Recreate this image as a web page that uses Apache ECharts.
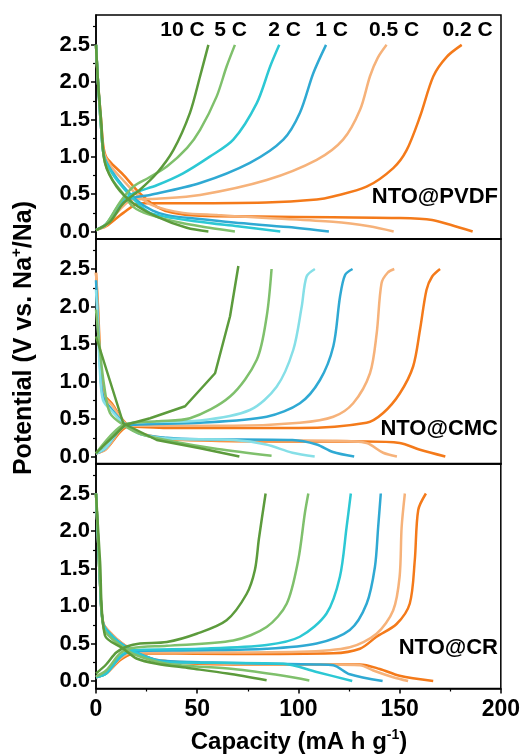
<!DOCTYPE html>
<html><head><meta charset="utf-8">
<script src="https://cdn.jsdelivr.net/npm/echarts@6/dist/echarts.min.js"></script>
<style>html,body{margin:0;padding:0;background:#fff}#c{width:523px;height:756px}</style>
</head><body><div id="c"></div>
<script>
// ---------- DATA ----------
const rates = ['0.2 C', '0.5 C', '1 C', '2 C', '5 C', '10 C'];
const rateLabelOrder = ['10 C', '5 C', '2 C', '1 C', '0.5 C', '0.2 C'];
const panelNames = ['NTO@PVDF', 'NTO@CMC', 'NTO@CR'];
const xTicks = [0, 50, 100, 150, 200];
const yMajor = [0, 0.5, 1, 1.5, 2, 2.5];
const yMinor = [0.25, 0.75, 1.25, 1.75, 2.25, 2.75];

// NTO@PVDF  discharge (D) / charge (C)  [capacity, potential]
const PVDF_D_02 = [[0,2.5],[1,2.0],[2.5,1.5],[3.6,1.15],[5,1.0],[8.5,0.89],[13.5,0.76],[21.7,0.51],[30,0.33],[38,0.25],[51,0.21],[80,0.2],[117,0.19],[150,0.18],[166,0.155],[175,0.09],[186,0.0]];
const PVDF_D_05 = [[0,2.5],[1,2.0],[2.5,1.4],[4,1.05],[8,0.85],[13,0.7],[20,0.5],[28,0.35],[43,0.25],[60,0.22],[84,0.18],[117,0.13],[135,0.07],[147,0.0]];
const PVDF_D_1  = [[0,2.5],[1,2.0],[2.5,1.4],[4,1.0],[8,0.8],[13,0.62],[20,0.42],[28,0.28],[35,0.22],[50,0.17],[68,0.12],[95,0.06],[115,0.0]];
const PVDF_D_2  = [[0,2.5],[1,2.0],[2.5,1.4],[4,1.0],[8,0.78],[13,0.6],[18,0.45],[26.7,0.25],[51,0.13],[70,0.07],[91,0.0]];
const PVDF_D_5  = [[0,2.5],[1,2.0],[2.5,1.4],[4.2,0.95],[8,0.7],[13,0.52],[18.4,0.33],[26,0.23],[43,0.11],[56,0.05],[68.6,0.0]];
const PVDF_D_10 = [[0,2.5],[1,2.0],[2.5,1.5],[4.4,0.92],[10.2,0.6],[18.4,0.38],[30,0.2],[44.8,0.05],[55.5,0.0]];
const PVDF_C_02 = [[0,0.02],[5,0.07],[13.5,0.25],[21.7,0.38],[35,0.38],[84,0.39],[109,0.43],[117,0.47],[133.6,0.6],[146.8,0.85],[153.4,1.09],[160,1.54],[166.6,2.08],[173.2,2.34],[180.6,2.5]];
const PVDF_C_05 = [[0,0.02],[5,0.08],[12,0.3],[18,0.43],[30,0.44],[51.4,0.49],[84.3,0.69],[109,0.96],[122,1.23],[130.4,1.63],[135.3,2.08],[139,2.32],[143.5,2.5]];
const PVDF_C_1  = [[0,0.02],[5,0.1],[12,0.35],[18,0.45],[26.7,0.49],[51.4,0.65],[76,0.92],[92.5,1.23],[100.7,1.59],[107.3,2.12],[113.6,2.5]];
const PVDF_C_2  = [[0,0.02],[5,0.1],[12,0.38],[18.4,0.51],[30,0.62],[43,0.78],[56,1.0],[67.8,1.23],[79.4,1.72],[86,2.21],[90.5,2.5]];
const PVDF_C_5  = [[0,0.02],[5,0.1],[12,0.4],[18.4,0.6],[26,0.72],[35,0.87],[45,1.12],[51.4,1.36],[59.6,1.81],[64.5,2.21],[68.6,2.5]];
const PVDF_C_10 = [[0,0.02],[6.9,0.13],[13.5,0.38],[21.7,0.56],[30,0.78],[38.2,1.09],[46.4,1.59],[51.4,2.08],[55.5,2.5]];

// NTO@CMC
const CMC_D_02 = [[0,2.45],[1,2.0],[2,1.4],[3.6,0.85],[8,0.7],[13.5,0.48],[20,0.33],[35,0.23],[100,0.2],[133,0.2],[150,0.18],[160,0.09],[172.5,0.0]];
const CMC_D_05 = [[0,2.45],[1,1.9],[2,1.3],[3.6,0.82],[8,0.68],[13.5,0.47],[20,0.33],[35,0.24],[51,0.22],[117,0.21],[133.6,0.18],[141.8,0.05],[148.6,0.0]];
const CMC_D_1  = [[0,2.35],[1,1.8],[2,1.2],[3.5,0.8],[8,0.62],[14,0.44],[22,0.3],[35,0.25],[51,0.23],[97,0.22],[109,0.16],[117,0.06],[127.5,0.0]];
const CMC_D_2  = [[0,2.22],[1,1.7],[2,1.1],[3.5,0.75],[8,0.6],[14,0.43],[22,0.3],[35,0.24],[68,0.22],[84,0.16],[97,0.05],[108,0.0]];
const CMC_D_5  = [[0,1.96],[2,1.4],[4,0.95],[6.9,0.58],[13.5,0.42],[22,0.3],[38,0.2],[60,0.1],[86.7,0.01]];
const CMC_D_10 = [[0,1.6],[13.5,0.44],[30,0.22],[51.4,0.11],[70.8,0.0]];
const CMC_C_02 = [[0,0.04],[5,0.1],[12,0.33],[16,0.4],[35,0.38],[100,0.38],[133.6,0.45],[141.8,0.58],[150,0.84],[156.6,1.2],[160,1.69],[163.2,2.22],[166,2.4],[169.9,2.5]];
const CMC_C_05 = [[0,0.04],[5,0.1],[12,0.35],[16,0.41],[68,0.41],[100.7,0.45],[117.2,0.53],[127,0.71],[135.3,1.11],[138.6,1.64],[141,2.31],[144,2.45],[147.3,2.5]];
const CMC_C_1  = [[0,0.04],[5,0.12],[12,0.37],[16,0.42],[51.4,0.45],[84.3,0.53],[100.7,0.71],[110.6,1.02],[117.2,1.47],[120.5,2.13],[123,2.42],[126.7,2.5]];
const CMC_C_2  = [[0,0.04],[5,0.12],[12,0.38],[18.4,0.45],[51.4,0.48],[76,0.62],[89.2,0.93],[97.4,1.42],[101.6,2.0],[104,2.4],[108.1,2.5]];
const CMC_C_5  = [[0,0.04],[13.5,0.42],[30,0.47],[46.4,0.51],[66.2,0.8],[79.4,1.29],[84.3,1.87],[86.7,2.5]];
const CMC_C_10 = [[0,0.045],[14.3,0.42],[26.7,0.51],[44,0.67],[58.8,1.11],[66.2,1.87],[70.3,2.54]];

// NTO@CR
const CR_D_02 = [[0,2.5],[1,1.9],[2,1.3],[3.6,0.77],[8,0.62],[13,0.5],[18.4,0.41],[30,0.28],[67.8,0.22],[130.4,0.22],[140.2,0.16],[150,0.07],[166.6,0.0]];
const CR_D_05 = [[0,2.5],[1,1.9],[2,1.3],[3.6,0.77],[8,0.62],[13,0.5],[18.4,0.41],[30,0.28],[67.8,0.23],[130.4,0.21],[137,0.14],[146.8,0.05],[154.2,0.0]];
const CR_D_1  = [[0,2.5],[1,1.9],[2,1.3],[3.6,0.76],[8,0.6],[13,0.49],[18.4,0.4],[30,0.28],[51.4,0.25],[109,0.22],[117.2,0.21],[125.4,0.09],[141.6,0.0]];
const CR_D_2  = [[0,2.5],[1,1.9],[2,1.3],[3.6,0.75],[8,0.6],[13,0.48],[18.4,0.39],[30,0.27],[35,0.25],[92.6,0.23],[109,0.12],[126.6,0.0]];
const CR_D_5  = [[0,2.5],[1,1.9],[2,1.3],[3.8,0.7],[8,0.56],[13,0.46],[18.4,0.36],[35,0.23],[67.8,0.16],[92.6,0.07],[105.4,0.007]];
const CR_D_10 = [[0,2.5],[2,1.6],[4.4,0.61],[13.5,0.43],[20,0.3],[30,0.23],[46.4,0.17],[65,0.1],[84.3,0.01]];
const CR_C_02 = [[0,0.05],[5,0.1],[12,0.28],[18,0.36],[30,0.37],[67.8,0.36],[117.2,0.37],[130.4,0.43],[138.6,0.59],[148.5,0.76],[155,1.03],[157.5,1.61],[159.2,2.28],[163,2.5]];
const CR_C_05 = [[0,0.05],[5,0.1],[12,0.3],[18,0.38],[50,0.38],[100.7,0.39],[125.4,0.45],[138.6,0.63],[146.8,0.94],[150,1.39],[151,2.05],[152.6,2.5]];
const CR_C_1  = [[0,0.05],[5,0.1],[12,0.32],[18,0.4],[50,0.41],[84.3,0.43],[109,0.5],[125.4,0.68],[133.7,1.03],[137.8,1.52],[139.4,2.05],[140.7,2.5]];
const CR_C_2  = [[0,0.05],[5,0.1],[12,0.33],[18,0.41],[51.4,0.43],[84.3,0.48],[100.7,0.59],[113.9,0.9],[120.5,1.39],[123.8,2.05],[125.9,2.5]];
const CR_C_5  = [[0,0.06],[5,0.14],[12,0.37],[18,0.44],[35,0.47],[67.8,0.54],[84.3,0.72],[94.2,1.03],[99.9,1.61],[103.2,2.24],[104.9,2.5]];
const CR_C_10 = [[0,0.1],[5,0.22],[10,0.38],[15.2,0.46],[21.7,0.5],[35,0.52],[49.7,0.63],[64.5,0.81],[74.4,1.16],[78.5,1.48],[80.5,1.9],[83.8,2.5]];

const dischargeSets = [
  [PVDF_D_02, PVDF_D_05, PVDF_D_1, PVDF_D_2, PVDF_D_5, PVDF_D_10],
  [CMC_D_02, CMC_D_05, CMC_D_1, CMC_D_2, CMC_D_5, CMC_D_10],
  [CR_D_02, CR_D_05, CR_D_1, CR_D_2, CR_D_5, CR_D_10]
];
const chargeSets = [
  [PVDF_C_02, PVDF_C_05, PVDF_C_1, PVDF_C_2, PVDF_C_5, PVDF_C_10],
  [CMC_C_02, CMC_C_05, CMC_C_1, CMC_C_2, CMC_C_5, CMC_C_10],
  [CR_C_02, CR_C_05, CR_C_1, CR_C_2, CR_C_5, CR_C_10]
];

// ---------- STYLE ----------
const panelColors = [
  ['#F47A1A', '#F6B27A', '#2FA9D3', '#2CC8D4', '#7FC06C', '#5C9B3C'],
  ['#F47A1A', '#F6B27A', '#2FA9D3', '#86DFE7', '#7FC06C', '#5C9B3C'],
  ['#F47A1A', '#F6B27A', '#2FA9D3', '#2CC8D4', '#7FC06C', '#5C9B3C']
];
const FONT = '"Liberation Sans", Arial, sans-serif';
const grids = [
  {left: 96, width: 405, top: 15, height: 224},
  {left: 96, width: 405, top: 239, height: 225},
  {left: 96, width: 405, top: 463.5, height: 225}
];

const option = {
  animation: false,
  backgroundColor: '#fff',
  grid: grids.map(g => Object.assign({show: true, borderColor: '#000', borderWidth: 1.5, backgroundColor: 'transparent'}, g)),
  xAxis: grids.map((g, i) => ({
    type: 'value', gridIndex: i, min: 0, max: 200, interval: 50,
    axisLine: {show: true, onZero: false, lineStyle: {color: '#000', width: 1.5}},
    axisTick: {show: i === 2, inside: false, length: 5, lineStyle: {color: '#000', width: 1.5}},
    minorTick: {show: i === 2, splitNumber: 2, length: 3, lineStyle: {color: '#000', width: 1.2}},
    axisLabel: {show: i === 2, color: '#000', fontFamily: FONT, fontWeight: 'bold', fontSize: 23, margin: 10},
    splitLine: {show: false}
  })),
  yAxis: [],
  series: [],
  graphic: []
};
grids.forEach((g, i) => {
  option.yAxis.push({
    type: 'value', gridIndex: i, min: -0.1, max: 2.9,
    axisLine: {show: true, onZero: false, lineStyle: {color: '#000', width: 1.5}},
    axisTick: {show: true, length: 5, customValues: yMajor, lineStyle: {color: '#000', width: 1.5}},
    axisLabel: {show: true, customValues: yMajor, formatter: v => Number(v).toFixed(1), color: '#000', fontFamily: FONT, fontWeight: 'bold', fontSize: 22, margin: 6},
    splitLine: {show: false}
  });
  option.yAxis.push({
    type: 'value', gridIndex: i, min: -0.1, max: 2.9, position: 'left',
    axisLine: {show: false},
    axisTick: {show: true, length: 3, customValues: yMinor, lineStyle: {color: '#000', width: 1.2}},
    axisLabel: {show: false},
    splitLine: {show: false}
  });
  rates.forEach((r, k) => {
    const col = panelColors[i][k];
    const sm = (i === 1 && k === 5) ? false : 0.3;
    [dischargeSets[i][k], chargeSets[i][k]].forEach((d, j) => {
      option.series.push({
        type: 'line', name: r + (j ? ' charge' : ' discharge'),
        xAxisIndex: i, yAxisIndex: 2 * i, data: d,
        showSymbol: false, smooth: sm,
        lineStyle: {color: col, width: 2.5}, z: 2 + k
      });
    });
  });
});

// rate labels
const rateLabelX = [182.5, 230.5, 284.5, 331.5, 394, 467.5];
rateLabelOrder.forEach((t, k) => {
  option.graphic.push({type: 'text', x: rateLabelX[k], y: 30,
    style: {text: t, fill: '#000', font: 'bold 21px ' + FONT, align: 'center', verticalAlign: 'middle'}});
});
// panel labels
const panelLabelY = [197, 429, 648];
panelNames.forEach((t, i) => {
  option.graphic.push({type: 'text', x: 498, y: panelLabelY[i],
    style: {text: t, fill: '#000', font: 'bold 22px ' + FONT, align: 'right', verticalAlign: 'middle'}});
});
// axis titles
option.graphic.push({type: 'text', x: 299, y: 742,
  style: {text: '{a|Capacity (mA h g}{s|-1}{a|)}', align: 'center', verticalAlign: 'middle',
    rich: {a: {fontFamily: FONT, fontWeight: 'bold', fontSize: 24, fill: '#000', color: '#000', lineHeight: 28},
           s: {fontFamily: FONT, fontWeight: 'bold', fontSize: 14, fill: '#000', color: '#000', verticalAlign: 'top', lineHeight: 28}}}});
option.graphic.push({type: 'text', x: 24, y: 338, rotation: Math.PI / 2,
  style: {text: '{a|Potential (V vs. Na}{s|+}{a|/Na)}', align: 'center', verticalAlign: 'middle',
    rich: {a: {fontFamily: FONT, fontWeight: 'bold', fontSize: 25, fill: '#000', color: '#000', lineHeight: 30},
           s: {fontFamily: FONT, fontWeight: 'bold', fontSize: 15, fill: '#000', color: '#000', verticalAlign: 'top', lineHeight: 30}}}});

const chart = echarts.init(document.getElementById('c'), null, {renderer: 'canvas'});
chart.setOption(option);
</script></body></html>
